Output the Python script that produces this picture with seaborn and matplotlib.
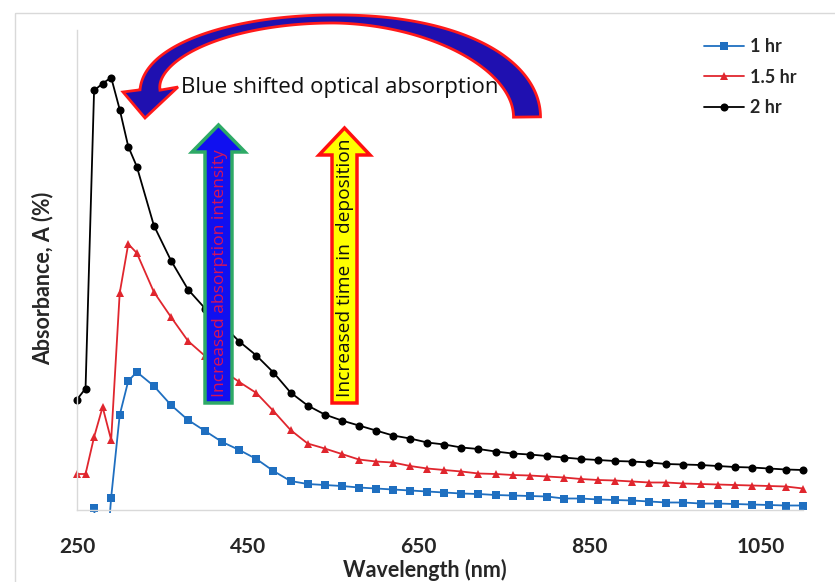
import numpy as np
import pandas as pd
import matplotlib
matplotlib.use("Agg")
import matplotlib.pyplot as plt
import seaborn as sns
from matplotlib.patches import Polygon, Rectangle
from matplotlib.transforms import Affine2D, Bbox, TransformedBbox

# ---------------- data ----------------
wavelength = [250, 260, 270, 280, 290, 300, 310, 320,
              340, 360, 380, 400, 420, 440, 460, 480, 500, 520, 540, 560,
              580, 600, 620, 640, 660, 680, 700, 720, 740, 760, 780, 800,
              820, 840, 860, 880, 900, 920, 940, 960, 980, 1000, 1020, 1040,
              1060, 1080, 1100]

abs_1hr = [np.nan, np.nan, 0.012, -1.0, 0.12, 0.945, 1.285, 1.375,
           1.235, 1.045, 0.895, 0.785, 0.675, 0.595, 0.505, 0.385, 0.285, 0.255, 0.245, 0.235,
           0.22, 0.21, 0.20, 0.19, 0.18, 0.17, 0.16, 0.155, 0.145, 0.14, 0.135, 0.13,
           0.11, 0.11, 0.10, 0.095, 0.09, 0.08, 0.07, 0.07, 0.06, 0.06, 0.055, 0.05,
           0.045, 0.04, 0.04]

abs_15hr = [0.355, 0.355, 0.725, 1.025, 0.695, 2.165, 2.655, 2.565,
            2.175, 1.925, 1.685, 1.535, 1.395, 1.275, 1.165, 0.985, 0.795, 0.66, 0.61, 0.555,
            0.50, 0.48, 0.47, 0.435, 0.41, 0.395, 0.38, 0.36, 0.355, 0.345, 0.34, 0.33,
            0.32, 0.305, 0.295, 0.29, 0.28, 0.27, 0.27, 0.26, 0.255, 0.25, 0.245, 0.24,
            0.235, 0.23, 0.21]

abs_2hr = [1.10, 1.21, 4.19, 4.26, 4.32, 4.00, 3.63, 3.43,
           2.84, 2.49, 2.20, 2.01, 1.85, 1.68, 1.54, 1.37, 1.17, 1.04, 0.95, 0.89,
           0.84, 0.79, 0.74, 0.71, 0.67, 0.65, 0.62, 0.605, 0.58, 0.56, 0.55, 0.535,
           0.52, 0.505, 0.495, 0.485, 0.48, 0.47, 0.455, 0.45, 0.445, 0.435, 0.425, 0.42,
           0.41, 0.40, 0.395]

series_labels = ["1 hr", "1.5 hr", "2 hr"]
x_ticks = [250, 450, 650, 850, 1050]
x_label = "Wavelength (nm)"
y_label = "Absorbance, A (%)"
note_shift = "Blue shifted optical absorption"
note_intensity = "Increased absorption intensity"
note_time = "Increased time in  deposition"

# ---------------- style ----------------
sns.set_theme(style="white")
plt.rcParams['font.family'] = ['Lato', 'DejaVu Sans']
TXT = "#262626"

W, H = 835, 582
fig = plt.figure(figsize=(W / 100, H / 100), dpi=100)
fig.patch.set_facecolor("white")
ax = fig.add_axes([77 / W, 1 - 509.5 / H, 726 / W, 479.5 / H])

# pixel -> figure transform (y down, like the reference image)
T = Affine2D().scale(1 / W, -1 / H).translate(0, 1) + fig.transFigure

styles = [
    (series_labels[0], abs_1hr, "#1f6fc0", "s", 5.6),
    (series_labels[1], abs_15hr, "#e0262e", "^", 6.4),
    (series_labels[2], abs_2hr, "#000000", "o", 5.8),
]
for label, vals, col, mk, ms in styles:
    d = pd.DataFrame({"wavelength": wavelength, "absorbance": vals}).dropna()
    sns.lineplot(data=d, x="wavelength", y="absorbance", ax=ax, color=col,
                 marker=mk, markersize=ms, markeredgewidth=0, linewidth=1.3,
                 label=label, sort=False, estimator=None)

clip = TransformedBbox(Bbox([[-0.015, -0.008], [1.015, 1.1]]), ax.transAxes)
for ln in ax.lines:
    ln.set_clip_box(clip)

ax.set_xlim(250, 1100)
ax.set_ylim(0, 4.795)
ax.set_yticks([])
ax.set_xticks(x_ticks)
ax.set_xticklabels([str(v) for v in x_ticks])
ax.tick_params(axis="x", length=0, pad=20, labelsize=15, labelcolor=TXT)
for lb in ax.get_xticklabels():
    lb.set_fontweight("bold")
for side in ["top", "right"]:
    ax.spines[side].set_visible(False)
for side in ["left", "bottom"]:
    ax.spines[side].set_color("#d9d9d9")
    ax.spines[side].set_linewidth(1.0)
ax.grid(False)

ax.set_xlabel(x_label, fontsize=15.5, fontweight="bold", color=TXT)
ax.xaxis.set_label_coords((425 - 77) / 726, (509.5 - 570) / 479.5)
ax.xaxis.label.set_verticalalignment("center")
ax.set_ylabel(y_label, fontsize=15.5, fontweight="bold", color=TXT)
ax.yaxis.set_label_coords((43 - 77) / 726, (509.5 - 278) / 479.5)
ax.yaxis.label.set_verticalalignment("center")

handles, labels = ax.get_legend_handles_labels()
leg = ax.legend(handles, labels, loc="upper left",
                bbox_to_anchor=(704 / W, 1 - 38 / H), bbox_transform=fig.transFigure,
                frameon=False, borderpad=0, borderaxespad=0, handlelength=2.2,
                handletextpad=0.35, labelspacing=0.75,
                prop={"weight": "bold", "size": 13})
for t in leg.get_texts():
    t.set_color(TXT)

# chart border
fig.add_artist(Rectangle((15, 13), 840, 590, transform=T, fill=False,
                         ec="#d9d9d9", lw=1.0, zorder=0.5))

# ---------------- annotations ----------------
fig.text(340, 88, note_shift, transform=T, ha="center", va="center",
         fontsize=16, family=["Open Sans", "DejaVu Sans"], color="#111111", zorder=1)

# curved arrow
cx, cy_r, cy_l = 333, 117, 90
a_r, a_l, b_r, b_l = 194, 183, 98, 71
tt = np.linspace(0, np.pi, 240)
right = tt <= np.pi / 2
aa = np.where(right, a_r, a_l)
bb = np.where(right, b_r, b_l)
cyy = np.where(right, cy_r, cy_l)
xc = cx + aa * np.cos(tt)
yc = cyy - bb * np.sin(tt)
ww = np.where(right, 8 + 19 * np.clip(np.cos(tt), 0, None) ** 1.5,
              8 + 12 * ((tt - np.pi / 2) / (np.pi / 2)) ** 2)
dx, dy = np.gradient(xc), np.gradient(yc)
nn = np.hypot(dx, dy)
nx, ny = -dy / nn, dx / nn
outer = np.column_stack([xc + nx * ww / 2, yc + ny * ww / 2])
inner = np.column_stack([xc - nx * ww / 2, yc - ny * ww / 2])
head = np.array([[123, 92], [145, 118], [178, 87]])
curved = np.vstack([outer, head, inner[::-1]])
fig.add_artist(Polygon(curved, closed=True, transform=T, fc="#1f10b0",
                       ec="#ff1a1a", lw=2.0, joinstyle="miter", zorder=2))

# vertical arrows
def up_arrow(xl, xr, hl, hr, tip_y, base_y, bot_y, fc, ec):
    xm = (xl + xr) / 2
    pts = [[xl, bot_y], [xr, bot_y], [xr, base_y], [hr, base_y], [xm, tip_y],
           [hl, base_y], [xl, base_y]]
    fig.add_artist(Polygon(pts, closed=True, transform=T, fc=fc, ec=ec, lw=2.5,
                           joinstyle="miter", zorder=2))

up_arrow(205, 232, 192, 245, 125, 152, 403, "#1010f0", "#2eaa66")
up_arrow(332, 357, 319, 370, 128, 155, 403, "#ffff00", "#ff1010")

fig.text(219.5, 273, note_intensity, transform=T, rotation=90, ha="center", va="center",
         fontsize=12.6, family=["Open Sans", "DejaVu Sans"], color="#d4145a", zorder=3)
fig.text(345, 268, note_time, transform=T, rotation=90, ha="center", va="center",
         fontsize=13.8, family=["Open Sans", "DejaVu Sans"], color="#111111", zorder=3)

fig.savefig("out.png", dpi=100, facecolor="white")
